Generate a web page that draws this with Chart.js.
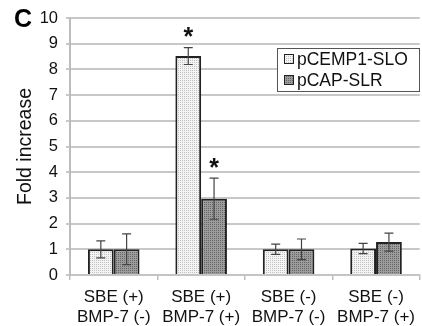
<!DOCTYPE html>
<html>
<head>
<meta charset="utf-8">
<script src="https://cdn.jsdelivr.net/npm/chart.js@4/dist/chart.umd.min.js"></script>
<style>
html,body{margin:0;padding:0;background:#fff;}
#wrap{width:422px;height:326px;position:relative;}
</style>
</head>
<body>
<div id="wrap"><canvas id="c" width="422" height="326"></canvas></div>
<script>
// ---- data ----
const categories = [["SBE (+)","BMP-7 (-)"],["SBE (+)","BMP-7 (+)"],["SBE (-)","BMP-7 (-)"],["SBE (-)","BMP-7 (+)"]];
const seriesNames = ["pCEMP1-SLO","pCAP-SLR"];
const cempValues = [1.0, 8.52, 1.0, 1.03];
const cempErrors = [0.33, 0.33, 0.2, 0.2];
const capValues = [1.0, 2.97, 1.0, 1.28];
const capErrors = [0.6, 0.8, 0.4, 0.35];
const cempStars = [false, true, false, false];
const capStars = [false, true, false, false];
const yTicks = [0,1,2,3,4,5,6,7,8,9,10];
const panelLetter = "C";
const yTitle = "Fold increase";

function makePattern(base, dot){
  const p = document.createElement('canvas');
  p.width = 2; p.height = 2;
  const g = p.getContext('2d');
  g.fillStyle = base; g.fillRect(0,0,2,2);
  g.fillStyle = dot;
  g.fillRect(0,0,1,1);
  return document.getElementById('c').getContext('2d').createPattern(p,'repeat');
}
const lightFill = makePattern('#f4f4f4','#c0c0c0');
const darkFill = makePattern('#9c9c9c','#666666');

const FONT = "'Liberation Sans', Arial, sans-serif";

const errorPlugin = {
  id:'errs',
  afterDatasetsDraw(chart){
    const ctx = chart.ctx, y = chart.scales.y;
    chart.data.datasets.forEach((ds,i)=>{
      const meta = chart.getDatasetMeta(i);
      meta.data.forEach((bar,j)=>{
        const v = ds.data[j], e = ds.errors[j];
        const yt = y.getPixelForValue(v+e), yb = y.getPixelForValue(v-e);
        ctx.save();
        ctx.strokeStyle = '#444'; ctx.lineWidth = 1.2;
        ctx.beginPath();
        ctx.moveTo(bar.x, yt); ctx.lineTo(bar.x, yb);
        ctx.moveTo(bar.x-4.5, yt); ctx.lineTo(bar.x+4.5, yt);
        ctx.moveTo(bar.x-4.5, yb); ctx.lineTo(bar.x+4.5, yb);
        ctx.stroke();
        if (ds.stars[j]) {
          ctx.fillStyle = '#111';
          ctx.font = "bold 25px " + FONT;
          ctx.textAlign = 'center'; ctx.textBaseline = 'middle';
          ctx.fillText('*', bar.x, yt - 9);
        }
        ctx.restore();
      });
    });
  }
};

const decorPlugin = {
  id:'decor',
  afterDraw(chart){
    const ctx = chart.ctx;
    ctx.save();
    ctx.fillStyle = '#000';
    ctx.font = "bold 25px " + FONT;
    ctx.textAlign = 'left'; ctx.textBaseline = 'middle';
    ctx.fillText(panelLetter, 14, 20);
    const lx = 277, ly = 48, lw = 142, lh = 43;
    ctx.fillStyle = '#fff';
    ctx.fillRect(lx, ly, lw, lh);
    ctx.strokeStyle = '#555'; ctx.lineWidth = 1;
    ctx.strokeRect(lx+0.5, ly+0.5, lw, lh);
    ctx.font = "17.5px " + FONT;
    ctx.textBaseline = 'middle';
    chart.data.datasets.forEach((ds,i)=>{
      const cy = 59 + i*21;
      ctx.fillStyle = ds.backgroundColor;
      ctx.fillRect(284, cy-5, 10, 10);
      ctx.strokeStyle = '#222'; ctx.lineWidth = 1;
      ctx.strokeRect(284.5, cy-4.5, 9, 9);
      ctx.fillStyle = '#111';
      ctx.fillText(ds.label, 297, cy+1);
    });
    ctx.restore();
  }
};

new Chart(document.getElementById('c'), {
  type:'bar',
  data:{
    labels: categories,
    datasets:[
      {label: seriesNames[0], data: cempValues, errors: cempErrors, stars: cempStars,
       backgroundColor: lightFill, borderColor:'#222', borderWidth:2},
      {label: seriesNames[1], data: capValues, errors: capErrors, stars: capStars,
       backgroundColor: darkFill, borderColor:'#222', borderWidth:2}
    ]
  },
  options:{
    responsive:false,
    animation:false,
    devicePixelRatio:1,
    layout:{padding:{left:14, top:18, right:0, bottom:0}},
    datasets:{bar:{categoryPercentage:0.59, barPercentage:1.0}},
    plugins:{legend:{display:false}, tooltip:{enabled:false}, title:{display:false}},
    scales:{
      x:{
        grid:{display:true, offset:true, drawOnChartArea:false, drawTicks:true, tickLength:5, color:'#bdbdbd', lineWidth:1.5},
        border:{display:true, color:'#c4c4c4', width:2},
        ticks:{color:'#111', font:{family:FONT, size:17, lineHeight:1.18}, padding:7, maxRotation:0, autoSkip:false},
        afterFit(s){ s.height = 51; }
      },
      y:{
        min:0, max:10,
        afterBuildTicks(s){ s.ticks = yTicks.map(v=>({value:v})); },
        grid:{color:'#c8c8c8', lineWidth:2, tickLength:4, drawTicks:true},
        border:{display:true, color:'#bdbdbd', width:2},
        ticks:{color:'#111', font:{family:FONT, size:16.5}, padding:8},
        title:{display:true, text:yTitle, color:'#111', font:{family:FONT, size:19.5}, padding:{top:0,bottom:0}},
        afterFit(s){ s.width = 56; }
      }
    }
  },
  plugins:[errorPlugin, decorPlugin]
});
</script>
</body>
</html>
